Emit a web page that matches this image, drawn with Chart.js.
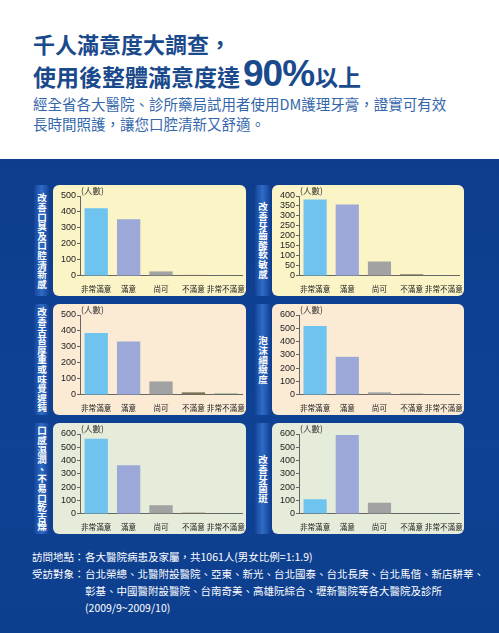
<!DOCTYPE html>
<html>
<head>
<meta charset="utf-8">
<script src="https://cdn.jsdelivr.net/npm/chart.js@4"></script>
<style>
  html, body { margin: 0; padding: 0; }
  body { width: 499px; height: 633px; position: relative; overflow: hidden; background: #fff;
         font-family: "Noto Sans CJK TC", "Noto Sans", sans-serif; }
  #head1, #head2 { position: absolute; left: 33px; color: #1b4a8c; font-weight: bold; white-space: nowrap; }
  #head1 { top: 28px; font-size: 22px; line-height: 30px; }
  #head2 { top: 56px; font-size: 23px; line-height: 36px; }
  #head2 .big { font-family: "Liberation Sans", Arial, sans-serif; font-size: 37px; letter-spacing: -1px; margin: 0 1px 0 3px; }
  #sub { position: absolute; left: 33px; top: 94px; color: #3466aa; font-size: 14.5px; line-height: 20px; white-space: nowrap; }
  #band { position: absolute; left: 0; top: 159px; width: 499px; height: 474px;
          background: linear-gradient(180deg, #0e3d8d 0%, #0f4294 60%, #0e3f8e 100%); }
  .tab { position: absolute; width: 15px; border-radius: 3px;
         background: linear-gradient(90deg, #14449a 0%, #2f6cc4 50%, #14449a 100%);
         color: #fff; font-size: 9.6px; font-weight: bold; line-height: 15px; white-space: nowrap;
         writing-mode: vertical-rl; text-orientation: upright; text-align: center;
         display: flex; align-items: center; justify-content: center; }
  .panel { position: absolute; border-radius: 6px; }
  .panel canvas { display: block; }
  #foot { position: absolute; left: 32px; top: 548px; color: #fff; font-size: 10.5px; line-height: 17px; }
  #foot .row { display: flex; }
  #foot .k { width: 53px; flex: none; }
</style>
</head>
<body>
<div id="head1">千人滿意度大調查，</div>
<div id="head2">使用後整體滿意度達<span class="big">90%</span>以上</div>
<div id="sub">經全省各大醫院、診所藥局試用者使用DM護理牙膏，證實可有效<br>長時間照護，讓您口腔清新又舒適。</div>
<div id="band"></div>
<div id="foot">
  <div class="row"><span class="k">訪問地點：</span><span>各大醫院病患及家屬，共1061人(男女比例=1:1.9)</span></div>
  <div class="row"><span class="k">受訪對象：</span><span>台北榮總、北醫附設醫院、亞東、新光、台北國泰、台北長庚、台北馬偕、新店耕莘、<br>彰基、中國醫附設醫院、台南奇美、高雄阮綜合、壢新醫院等各大醫院及診所<br>(2009/9~2009/10)</span></div>
</div>

<script>
// categories shared by all six charts
var categories = ['非常滿意', '滿意', '尚可', '不滿意', '非常不滿意'];

// chart titles (side tabs)
var titles = [
  '改善口臭及口腔清新感',
  '改善牙齒酸軟敏感',
  '改善舌苔厚重或味覺遲鈍',
  '泡沫細緻度',
  '口感濕潤、不易口乾舌燥',
  '改善牙菌斑'
];

// number of people per answer
var breathValues    = [424, 354, 28, 6, 5];
var sensitiveValues = [382, 358, 72, 8, 2];
var tongueValues    = [387, 334, 84, 16, 8];
var foamValues      = [518, 286, 19, 9, 5];
var moistValues     = [565, 366, 65, 9, 5];
var plaqueValues    = [110, 593, 84, 3, 2];

// y axis ticks
var yMax  = [500, 400, 500, 600, 600, 600];
var yStep = [100, 50, 100, 100, 100, 100];

var allValues = [breathValues, sensitiveValues, tongueValues, foamValues, moistValues, plaqueValues];

var barColors = ['#6fc4ef', '#9ba8d8', '#a2a2a2', '#7b7659', '#5f7e5c'];
var panelColors = ['#fbf4c6', '#fbebd5', '#e5ecd9'];

// layout of the six panels
var cols = [{ tab: 34, panel: 53, w: 193 }, { tab: 255, panel: 272, w: 192 }];
var rows = [{ top: 185, h: 111 }, { top: 304, h: 111 }, { top: 423, h: 111 }];

// "(人數)" label above the y axis
var unitLabel = {
  id: 'unitLabel',
  afterDraw: function (chart) {
    var ctx = chart.ctx;
    var a = chart.chartArea;
    ctx.save();
    ctx.font = '8.5px "Noto Sans CJK TC", sans-serif';
    ctx.fillStyle = '#333';
    ctx.textAlign = 'left';
    ctx.textBaseline = 'bottom';
    ctx.fillText('(人數)', a.left + 1, a.top - 1);
    ctx.restore();
  }
};

for (var i = 0; i < 6; i++) {
  var col = cols[i % 2];
  var row = rows[Math.floor(i / 2)];

  var tab = document.createElement('div');
  tab.className = 'tab';
  tab.style.left = col.tab + 'px';
  tab.style.top = row.top + 'px';
  tab.style.height = row.h + 'px';
  tab.textContent = titles[i];
  document.body.appendChild(tab);

  var panel = document.createElement('div');
  panel.className = 'panel';
  panel.style.left = col.panel + 'px';
  panel.style.top = row.top + 'px';
  panel.style.width = col.w + 'px';
  panel.style.height = row.h + 'px';
  panel.style.background = panelColors[Math.floor(i / 2)];
  var canvas = document.createElement('canvas');
  panel.appendChild(canvas);
  document.body.appendChild(panel);

  new Chart(canvas.getContext('2d'), {
    type: 'bar',
    data: {
      labels: categories,
      datasets: [{
        data: allValues[i],
        backgroundColor: barColors,
        borderWidth: 0,
        barPercentage: 0.72,
        categoryPercentage: 1
      }]
    },
    options: {
      responsive: true,
      maintainAspectRatio: false,
      animation: false,
      layout: { padding: { left: 7, right: 2, top: 11, bottom: 1 } },
      plugins: { legend: { display: false }, tooltip: { enabled: false } },
      scales: {
        x: {
          grid: { display: false },
          border: { color: '#666', width: 1 },
          ticks: { color: '#222', font: { size: 7.6, family: '"Noto Sans CJK TC"' }, padding: 1, maxRotation: 0, autoSkip: false }
        },
        y: {
          min: 0,
          max: yMax[i],
          grid: { drawOnChartArea: false, drawTicks: true, tickLength: 3, color: '#666' },
          border: { color: '#666', width: 1 },
          ticks: { stepSize: yStep[i], autoSkip: false, color: '#222', font: { size: 9, family: '"Liberation Sans"' }, padding: 1 }
        }
      }
    },
    plugins: [unitLabel]
  });
}
</script>
</body>
</html>
